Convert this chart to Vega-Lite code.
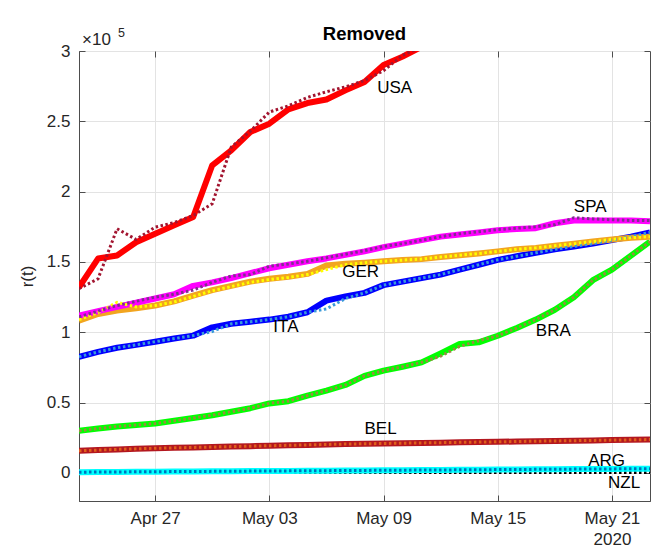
{
  "$schema": "https://vega.github.io/schema/vega-lite/v6.json",
  "width": 571,
  "height": 450,
  "autosize": {"type": "none"},
  "padding": {"left": 79, "top": 51, "right": 5, "bottom": 47},
  "background": "white",
  "config": {
    "font": "Liberation Sans",
    "view": {"stroke": "#4d4d4d", "strokeWidth": 1},
    "axis": {
      "labelFont": "Liberation Sans",
      "labelFontSize": 17,
      "labelColor": "#262626",
      "titleFont": "Liberation Sans",
      "titleFontSize": 17,
      "titleFontWeight": "normal",
      "titleColor": "#262626",
      "gridColor": "#e3e3e3",
      "gridWidth": 1,
      "domainColor": "#4d4d4d",
      "tickColor": "#4d4d4d",
      "tickSize": -6,
      "tickWidth": 1
    }
  },
  "title": {
    "text": "Removed",
    "font": "Liberation Sans",
    "fontSize": 18.5,
    "fontWeight": "bold",
    "color": "#000000",
    "anchor": "middle",
    "offset": -16
  },
  "datasets": {
    "fit": [
      {"date": "2020-04-23T00:00", "USA": 132000, "SPA": 111800, "GER": 108300, "ITA": 82600, "BRA": 30000, "BEL": 15700, "ARG": 500},
      {"date": "2020-04-24T00:00", "USA": 152400, "SPA": 115000, "GER": 113000, "ITA": 86000, "BRA": 31500, "BEL": 16200, "ARG": 580},
      {"date": "2020-04-25T00:00", "USA": 154600, "SPA": 118000, "GER": 115500, "ITA": 89000, "BRA": 33000, "BEL": 16700, "ARG": 670},
      {"date": "2020-04-26T00:00", "USA": 164000, "SPA": 121000, "GER": 117000, "ITA": 91000, "BRA": 34000, "BEL": 17100, "ARG": 750},
      {"date": "2020-04-27T00:00", "USA": 170000, "SPA": 124000, "GER": 119000, "ITA": 93300, "BRA": 35100, "BEL": 17500, "ARG": 830},
      {"date": "2020-04-28T00:00", "USA": 176000, "SPA": 127000, "GER": 122000, "ITA": 95500, "BRA": 37000, "BEL": 17800, "ARG": 920},
      {"date": "2020-04-29T00:00", "USA": 182000, "SPA": 133000, "GER": 126000, "ITA": 97600, "BRA": 39000, "BEL": 18100, "ARG": 1000},
      {"date": "2020-04-30T00:00", "USA": 218700, "SPA": 135500, "GER": 130000, "ITA": 103500, "BRA": 41000, "BEL": 18400, "ARG": 1080},
      {"date": "2020-05-01T00:00", "USA": 229300, "SPA": 138500, "GER": 133000, "ITA": 106000, "BRA": 43500, "BEL": 18700, "ARG": 1170},
      {"date": "2020-05-02T00:00", "USA": 242400, "SPA": 142000, "GER": 136000, "ITA": 107500, "BRA": 46000, "BEL": 19000, "ARG": 1250},
      {"date": "2020-05-03T00:00", "USA": 248300, "SPA": 145500, "GER": 138000, "ITA": 109000, "BRA": 49400, "BEL": 19300, "ARG": 1330},
      {"date": "2020-05-04T00:00", "USA": 258500, "SPA": 148000, "GER": 139500, "ITA": 111000, "BRA": 51000, "BEL": 19600, "ARG": 1420},
      {"date": "2020-05-05T00:00", "USA": 263000, "SPA": 150500, "GER": 141500, "ITA": 114200, "BRA": 55000, "BEL": 19900, "ARG": 1500},
      {"date": "2020-05-06T00:00", "USA": 265500, "SPA": 152500, "GER": 147500, "ITA": 122500, "BRA": 58500, "BEL": 20200, "ARG": 1580},
      {"date": "2020-05-07T00:00", "USA": 272000, "SPA": 155000, "GER": 148700, "ITA": 125500, "BRA": 62500, "BEL": 20500, "ARG": 1670},
      {"date": "2020-05-08T00:00", "USA": 278000, "SPA": 157500, "GER": 149500, "ITA": 128000, "BRA": 69000, "BEL": 20700, "ARG": 1750},
      {"date": "2020-05-09T00:00", "USA": 290000, "SPA": 160500, "GER": 150500, "ITA": 133500, "BRA": 72700, "BEL": 20900, "ARG": 1830},
      {"date": "2020-05-10T00:00", "USA": 296000, "SPA": 163000, "GER": 151300, "ITA": 136000, "BRA": 75500, "BEL": 21100, "ARG": 1920},
      {"date": "2020-05-11T00:00", "USA": 303000, "SPA": 165500, "GER": 152000, "ITA": 138500, "BRA": 78600, "BEL": 21300, "ARG": 2000},
      {"date": "2020-05-12T00:00", "USA": null, "SPA": 168000, "GER": 153500, "ITA": 141000, "BRA": 85000, "BEL": 21500, "ARG": 2080},
      {"date": "2020-05-13T00:00", "USA": null, "SPA": 169500, "GER": 154800, "ITA": 144500, "BRA": 91700, "BEL": 21700, "ARG": 2170},
      {"date": "2020-05-14T00:00", "USA": null, "SPA": 171000, "GER": 156000, "ITA": 148000, "BRA": 92800, "BEL": 21900, "ARG": 2250},
      {"date": "2020-05-15T00:00", "USA": null, "SPA": 172500, "GER": 157500, "ITA": 151500, "BRA": 97500, "BEL": 22100, "ARG": 2330},
      {"date": "2020-05-16T00:00", "USA": null, "SPA": 173500, "GER": 159000, "ITA": 154000, "BRA": 103000, "BEL": 22300, "ARG": 2420},
      {"date": "2020-05-17T00:00", "USA": null, "SPA": 174000, "GER": 160000, "ITA": 156500, "BRA": 109000, "BEL": 22500, "ARG": 2500},
      {"date": "2020-05-18T00:00", "USA": null, "SPA": 177500, "GER": 161500, "ITA": 159000, "BRA": 116000, "BEL": 22700, "ARG": 2580},
      {"date": "2020-05-19T00:00", "USA": null, "SPA": 179500, "GER": 163000, "ITA": 161000, "BRA": 124900, "BEL": 22900, "ARG": 2670},
      {"date": "2020-05-20T00:00", "USA": null, "SPA": 179500, "GER": 164500, "ITA": 163000, "BRA": 137000, "BEL": 23100, "ARG": 2750},
      {"date": "2020-05-21T00:00", "USA": null, "SPA": 179500, "GER": 166000, "ITA": 165500, "BRA": 144500, "BEL": 23300, "ARG": 2830},
      {"date": "2020-05-22T00:00", "USA": null, "SPA": 179500, "GER": 167200, "ITA": 168000, "BRA": 154500, "BEL": 23500, "ARG": 2920},
      {"date": "2020-05-23T00:00", "USA": null, "SPA": 179000, "GER": 168000, "ITA": 171000, "BRA": 164500, "BEL": 23700, "ARG": 3000}
    ],
    "observed": [
      {"date": "2020-04-23T00:00", "USA": 131000, "SPA": 111000, "GER": 109000, "ITA": 82600, "BRA": 30000, "BEL": 15700, "ARG": 500, "NZL": 200},
      {"date": "2020-04-24T00:00", "USA": 138000, "SPA": 115000, "GER": 114000, "ITA": 86000, "BRA": 31500, "BEL": 16200, "ARG": 580, "NZL": 200},
      {"date": "2020-04-25T00:00", "USA": 173600, "SPA": 119000, "GER": 121300, "ITA": 89000, "BRA": 33000, "BEL": 16700, "ARG": 670, "NZL": 200},
      {"date": "2020-04-26T00:00", "USA": 166000, "SPA": 122000, "GER": 118000, "ITA": 91000, "BRA": 34000, "BEL": 17100, "ARG": 750, "NZL": 200},
      {"date": "2020-04-27T00:00", "USA": 174700, "SPA": 125000, "GER": 119000, "ITA": 93300, "BRA": 35100, "BEL": 17500, "ARG": 830, "NZL": 200},
      {"date": "2020-04-28T00:00", "USA": 178000, "SPA": 127000, "GER": 121500, "ITA": 95500, "BRA": 37000, "BEL": 17800, "ARG": 920, "NZL": 200},
      {"date": "2020-04-29T00:00", "USA": 183000, "SPA": 130000, "GER": 125500, "ITA": 97600, "BRA": 39000, "BEL": 18100, "ARG": 1000, "NZL": 200},
      {"date": "2020-04-30T00:00", "USA": 191400, "SPA": 135500, "GER": 129500, "ITA": 100500, "BRA": 41000, "BEL": 18400, "ARG": 1080, "NZL": 200},
      {"date": "2020-05-01T00:00", "USA": 231700, "SPA": 140000, "GER": 132500, "ITA": 106000, "BRA": 43500, "BEL": 18700, "ARG": 1170, "NZL": 200},
      {"date": "2020-05-02T00:00", "USA": 243000, "SPA": 141000, "GER": 135500, "ITA": 107500, "BRA": 46000, "BEL": 19000, "ARG": 1250, "NZL": 200},
      {"date": "2020-05-03T00:00", "USA": 256600, "SPA": 147000, "GER": 137500, "ITA": 109000, "BRA": 49400, "BEL": 19300, "ARG": 1330, "NZL": 200},
      {"date": "2020-05-04T00:00", "USA": 261000, "SPA": 148500, "GER": 139000, "ITA": 111000, "BRA": 51000, "BEL": 19600, "ARG": 1420, "NZL": 200},
      {"date": "2020-05-05T00:00", "USA": 267000, "SPA": 150500, "GER": 141000, "ITA": 114200, "BRA": 55000, "BEL": 19900, "ARG": 1500, "NZL": 200},
      {"date": "2020-05-06T00:00", "USA": 271000, "SPA": 153000, "GER": 144500, "ITA": 116600, "BRA": 58500, "BEL": 20200, "ARG": 1580, "NZL": 200},
      {"date": "2020-05-07T00:00", "USA": 274500, "SPA": 155500, "GER": 148000, "ITA": 124000, "BRA": 62500, "BEL": 20500, "ARG": 1670, "NZL": 200},
      {"date": "2020-05-08T00:00", "USA": 279000, "SPA": 158000, "GER": 149500, "ITA": 128000, "BRA": 69000, "BEL": 20700, "ARG": 1750, "NZL": 200},
      {"date": "2020-05-09T00:00", "USA": 286000, "SPA": 161000, "GER": 150500, "ITA": 133500, "BRA": 72700, "BEL": 20900, "ARG": 1830, "NZL": 200},
      {"date": "2020-05-10T00:00", "USA": 297000, "SPA": 163000, "GER": 151300, "ITA": 136000, "BRA": 75500, "BEL": 21100, "ARG": 1920, "NZL": 200},
      {"date": "2020-05-11T00:00", "USA": 303000, "SPA": 165500, "GER": 152000, "ITA": 138500, "BRA": 78600, "BEL": 21300, "ARG": 2000, "NZL": 200},
      {"date": "2020-05-12T00:00", "USA": null, "SPA": 168000, "GER": 153500, "ITA": 141000, "BRA": 83000, "BEL": 21500, "ARG": 2080, "NZL": 200},
      {"date": "2020-05-13T00:00", "USA": null, "SPA": 170000, "GER": 154800, "ITA": 144500, "BRA": 90000, "BEL": 21700, "ARG": 2170, "NZL": 200},
      {"date": "2020-05-14T00:00", "USA": null, "SPA": 171500, "GER": 156000, "ITA": 148000, "BRA": 94000, "BEL": 21900, "ARG": 2250, "NZL": 200},
      {"date": "2020-05-15T00:00", "USA": null, "SPA": 173000, "GER": 157500, "ITA": 151500, "BRA": 97500, "BEL": 22100, "ARG": 2330, "NZL": 200},
      {"date": "2020-05-16T00:00", "USA": null, "SPA": 174000, "GER": 159000, "ITA": 154000, "BRA": 103000, "BEL": 22300, "ARG": 2420, "NZL": 200},
      {"date": "2020-05-17T00:00", "USA": null, "SPA": 175000, "GER": 160000, "ITA": 156500, "BRA": 109000, "BEL": 22500, "ARG": 2500, "NZL": 200},
      {"date": "2020-05-18T00:00", "USA": null, "SPA": 176500, "GER": 161500, "ITA": 159000, "BRA": 116000, "BEL": 22700, "ARG": 2580, "NZL": 200},
      {"date": "2020-05-19T00:00", "USA": null, "SPA": 181400, "GER": 163000, "ITA": 161000, "BRA": 124900, "BEL": 22900, "ARG": 2670, "NZL": 200},
      {"date": "2020-05-20T00:00", "USA": null, "SPA": 180600, "GER": 164500, "ITA": 163000, "BRA": 137000, "BEL": 23100, "ARG": 2750, "NZL": 200},
      {"date": "2020-05-21T00:00", "USA": null, "SPA": 180000, "GER": 166000, "ITA": 165500, "BRA": 144500, "BEL": 23300, "ARG": 2830, "NZL": 200},
      {"date": "2020-05-22T00:00", "USA": null, "SPA": 179500, "GER": 167200, "ITA": 168000, "BRA": 154500, "BEL": 23500, "ARG": 2920, "NZL": 200},
      {"date": "2020-05-23T00:00", "USA": null, "SPA": 179500, "GER": 168000, "ITA": 171000, "BRA": 164500, "BEL": 23700, "ARG": 3000, "NZL": 200}
    ],
    "labels": [
      {"country": "USA", "date": "2020-05-08T16:00", "value": 274000},
      {"country": "SPA", "date": "2020-05-19T00:00", "value": 189000},
      {"country": "GER", "date": "2020-05-06T20:00", "value": 142700},
      {"country": "ITA", "date": "2020-05-03T05:00", "value": 103500},
      {"country": "BRA", "date": "2020-05-17T00:00", "value": 101000},
      {"country": "BEL", "date": "2020-05-08T00:00", "value": 31100},
      {"country": "ARG", "date": "2020-05-19T18:00", "value": 8500},
      {"country": "NZL", "date": "2020-05-20T19:00", "value": -6900}
    ]
  },
  "layer": [
    {
      "data": {"name": "observed"},
      "transform": [
        {"fold": ["NZL"], "as": ["country", "value"]}
      ],
      "mark": {"type": "line", "strokeWidth": 3, "strokeDash": [2.5, 2.5], "clip": true, "strokeCap": "butt", "color": "#000000"},
      "encoding": {
        "x": {
          "field": "date",
          "type": "temporal",
          "scale": {
            "domain": [
              {"year": 2020, "month": 4, "date": 23},
              {"year": 2020, "month": 5, "date": 23}
            ]
          },
          "axis": {
            "title": null,
            "grid": true,
            "values": [
              {"year": 2020, "month": 4, "date": 27},
              {"year": 2020, "month": 5, "date": 3},
              {"year": 2020, "month": 5, "date": 9},
              {"year": 2020, "month": 5, "date": 15},
              {"year": 2020, "month": 5, "date": 21}
            ],
            "labelExpr": "date(datum.value) == 21 ? [timeFormat(datum.value, '%b %d'), '2020'] : timeFormat(datum.value, '%b %d')",
            "labelPadding": 15,
            "labelLineHeight": 21
          }
        },
        "y": {
          "field": "value",
          "type": "quantitative",
          "scale": {"domain": [-20000, 300000], "nice": false, "zero": false},
          "axis": {
            "title": "r(t)",
            "titlePadding": 10,
            "grid": true,
            "values": [0, 50000, 100000, 150000, 200000, 250000, 300000],
            "labelExpr": "format(datum.value / 100000, '')",
            "labelPadding": 15
          }
        },
        "detail": {"field": "country", "type": "nominal"}
      }
    },
    {
      "data": {"name": "fit"},
      "transform": [
        {"fold": ["ARG", "BEL", "BRA", "ITA", "GER", "SPA", "USA"], "as": ["country", "value"]}
      ],
      "mark": {"type": "line", "strokeWidth": 6, "clip": true, "strokeJoin": "round", "strokeCap": "butt"},
      "encoding": {
        "x": {"field": "date", "type": "temporal", "axis": null},
        "y": {"field": "value", "type": "quantitative", "axis": null},
        "color": {
          "field": "country",
          "type": "nominal",
          "scale": {
            "domain": ["USA", "SPA", "GER", "ITA", "BRA", "BEL", "ARG"],
            "range": ["#ff0000", "#ff00ff", "#f2a51f", "#0000ff", "#00ff00", "#b3171f", "#00ffff"]
          },
          "legend": null
        }
      }
    },
    {
      "data": {"name": "observed"},
      "transform": [
        {"fold": ["ARG", "BEL", "BRA", "ITA", "GER", "SPA", "USA"], "as": ["country", "value"]}
      ],
      "mark": {"type": "line", "strokeWidth": 3, "strokeDash": [2.5, 2.5], "clip": true, "strokeCap": "butt"},
      "encoding": {
        "x": {
          "field": "date",
          "type": "temporal",
          "axis": {
            "orient": "top",
            "title": null,
            "labels": false,
            "grid": false,
            "domain": false,
            "values": [
              {"year": 2020, "month": 4, "date": 27},
              {"year": 2020, "month": 5, "date": 3},
              {"year": 2020, "month": 5, "date": 9},
              {"year": 2020, "month": 5, "date": 15},
              {"year": 2020, "month": 5, "date": 21}
            ]
          }
        },
        "y": {
          "field": "value",
          "type": "quantitative",
          "axis": {
            "orient": "right",
            "title": null,
            "labels": false,
            "grid": false,
            "domain": false,
            "values": [0, 50000, 100000, 150000, 200000, 250000, 300000]
          }
        },
        "color": {
          "field": "country",
          "type": "nominal",
          "scale": {
            "domain": ["USA", "SPA", "GER", "ITA", "BRA", "BEL", "ARG"],
            "range": ["#a2142f", "#7e2f8e", "#ffff00", "#3a9ad9", "#9a8a40", "#e0601a", "#0072bd"]
          },
          "legend": null
        }
      }
    },
    {
      "data": {"name": "labels"},
      "mark": {"type": "text", "align": "left", "baseline": "middle", "font": "Liberation Sans", "fontSize": 17, "color": "#000000"},
      "encoding": {
        "x": {"field": "date", "type": "temporal", "axis": null},
        "y": {"field": "value", "type": "quantitative", "axis": null},
        "text": {"field": "country", "type": "nominal"}
      }
    },
    {
      "data": {"values": [{"exponent": "×10"}]},
      "mark": {"type": "text", "align": "left", "baseline": "alphabetic", "font": "Liberation Sans", "fontSize": 17, "color": "#262626", "dx": 3, "dy": -6},
      "encoding": {
        "x": {"datum": {"year": 2020, "month": 4, "date": 23}, "type": "temporal", "axis": null},
        "y": {"datum": 300000, "type": "quantitative", "axis": null},
        "text": {"field": "exponent", "type": "nominal"}
      }
    },
    {
      "data": {"values": [{"power": "5"}]},
      "mark": {"type": "text", "align": "left", "baseline": "alphabetic", "font": "Liberation Sans", "fontSize": 12.5, "color": "#262626", "dx": 39, "dy": -14},
      "encoding": {
        "x": {"datum": {"year": 2020, "month": 4, "date": 23}, "type": "temporal", "axis": null},
        "y": {"datum": 300000, "type": "quantitative", "axis": null},
        "text": {"field": "power", "type": "nominal"}
      }
    }
  ],
  "resolve": {
    "scale": {"color": "independent"},
    "axis": {"x": "independent", "y": "independent"}
  }
}
